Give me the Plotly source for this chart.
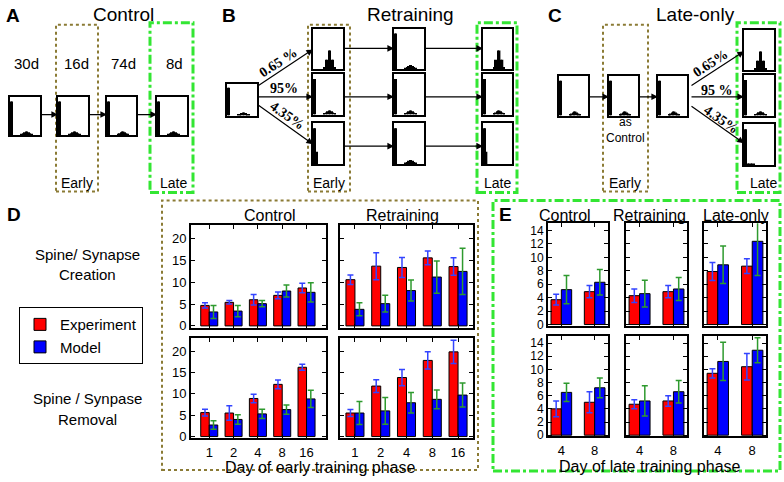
import plotly.graph_objects as go

W, H = 784, 482
def X(p): return p / W
def Y(p): return 1 - p / H

FONT = "Liberation Sans, Arial, sans-serif"

# ---------------- data ----------------
days_early = ["1", "2", "4", "8", "16"]
days_late = ["4", "8"]

# Panel D – creation
d_ctrl_cre_exp = [4.7, 5.4, 6.0, 7.0, 8.7]
d_ctrl_cre_exp_err = [0.6, 0.4, 1.2, 0.8, 1.1]
d_ctrl_cre_mod = [3.2, 3.4, 5.1, 8.0, 7.7]
d_ctrl_cre_mod_err = [1.5, 1.3, 0.7, 1.4, 2.2]
d_ret_cre_exp = [10.6, 13.7, 13.4, 15.6, 13.6]
d_ret_cre_exp_err = [1.1, 3.1, 2.3, 1.6, 2.0]
d_ret_cre_mod = [3.8, 5.1, 8.1, 11.2, 12.5]
d_ret_cre_mod_err = [1.5, 1.9, 2.4, 3.7, 5.3]
# Panel D – removal
d_ctrl_rem_exp = [5.6, 5.5, 8.9, 12.2, 16.2]
d_ctrl_rem_exp_err = [0.8, 1.7, 1.0, 1.0, 0.7]
d_ctrl_rem_mod = [2.7, 4.0, 5.3, 6.3, 8.8]
d_ctrl_rem_mod_err = [1.0, 1.1, 1.1, 1.1, 2.0]
d_ret_rem_exp = [5.5, 11.8, 13.8, 17.8, 19.8]
d_ret_rem_exp_err = [0.8, 1.5, 1.9, 2.0, 2.7]
d_ret_rem_mod = [5.5, 6.0, 7.9, 8.7, 9.7]
d_ret_rem_mod_err = [2.7, 3.1, 2.4, 2.2, 2.8]

# Panel E – creation
e_ctrl_cre_exp = [3.7, 4.9]
e_ctrl_cre_exp_err = [0.8, 0.9]
e_ctrl_cre_mod = [5.2, 6.3]
e_ctrl_cre_mod_err = [2.1, 1.9]
e_ret_cre_exp = [4.3, 4.9]
e_ret_cre_exp_err = [1.0, 0.9]
e_ret_cre_mod = [4.6, 5.3]
e_ret_cre_mod_err = [2.0, 1.7]
e_late_cre_exp = [7.9, 8.7]
e_late_cre_exp_err = [1.35, 1.1]
e_late_cre_mod = [8.9, 12.4]
e_late_cre_mod_err = [2.8, 5.1]
# Panel E – removal
e_ctrl_rem_exp = [4.0, 5.0]
e_ctrl_rem_exp_err = [1.2, 1.6]
e_ctrl_rem_mod = [6.5, 7.2]
e_ctrl_rem_mod_err = [1.4, 1.5]
e_ret_rem_exp = [4.7, 5.2]
e_ret_rem_exp_err = [0.7, 0.8]
e_ret_rem_mod = [5.2, 6.6]
e_ret_rem_mod_err = [2.3, 1.7]
e_late_rem_exp = [9.4, 10.4]
e_late_rem_exp_err = [0.7, 2.0]
e_late_rem_mod = [11.2, 12.9]
e_late_rem_mod_err = [2.9, 1.9]

# schematic weight-distribution histograms (20 bins)
hist_bins = [i + 0.5 for i in range(20)]
hist_normal = [0.88, 0.88, 0, 0, 0, 0, 0, 0.02, 0.05, 0.08, 0.1, 0.1, 0.08, 0.05, 0.02, 0, 0, 0, 0, 0]
hist_peak = [0, 0, 0, 0, 0, 0, 0, 0.05, 0.23, 0.23, 0.46, 0.46, 0.23, 0.23, 0.05, 0, 0, 0, 0, 0]
hist_lost_b = [0.88, 0.88, 0.3, 0, 0, 0, 0, 0, 0, 0, 0, 0, 0, 0, 0, 0, 0, 0, 0, 0]
hist_lost_c = [0.88, 0.88, 0.03, 0.03, 0.03, 0.03, 0.03, 0, 0, 0, 0, 0, 0, 0, 0, 0, 0, 0, 0, 0]

RED = "#ff0000"
BLUE = "#0000ff"
ERR_EXP = "#3344ff"
ERR_MOD = "#2e9a2e"
OLIVE = "#8b7b35"
GREEN = "#33e633"

fig = go.Figure()
layout = {}
count = [0]


def add_axis(x0, x1, y0, y1, xopts, yopts):
    count[0] += 1
    n = count[0]
    s = "" if n == 1 else str(n)
    layout["xaxis" + s] = dict(domain=[X(x0), X(x1)], anchor="y" + s, **xopts)
    layout["yaxis" + s] = dict(domain=[Y(y1), Y(y0)], anchor="x" + s, **yopts)
    return "x" + s, "y" + s


def main_axes(x0, x1, y0, y1, xrange, yrange, yticks, xlabels, ylabels, yfont=13):
    xo = dict(type="category", range=xrange, showline=True, linecolor="black", linewidth=2,
              mirror="ticks", ticks="inside", ticklen=4, tickcolor="black", showgrid=False,
              zeroline=False, showticklabels=xlabels, tickfont=dict(size=13, color="black"),
              ticklabelstandoff=1, fixedrange=True)
    yo = dict(range=yrange, showline=True, linecolor="black", linewidth=2, mirror="ticks",
              ticks="inside", ticklen=4, tickcolor="black", showgrid=False, zeroline=False,
              tickvals=yticks, showticklabels=ylabels, tickfont=dict(size=yfont, color="black"),
              fixedrange=True)
    return add_axis(x0, x1, y0, y1, xo, yo)


legend_shown = [False]


def add_bars(axes, cats, exp, exp_err, mod, mod_err, w):
    xa, ya = axes
    show = not legend_shown[0]
    legend_shown[0] = True
    fig.add_trace(go.Bar(x=cats, y=exp, xaxis=xa, yaxis=ya, width=w, offset=-w,
                         marker=dict(color=RED, line=dict(color="black", width=1)),
                         error_y=dict(type="data", array=exp_err, color=ERR_EXP, thickness=1.5, width=3),
                         name="Experiment", legendgroup="exp", showlegend=show))
    fig.add_trace(go.Bar(x=cats, y=mod, xaxis=xa, yaxis=ya, width=w, offset=0,
                         marker=dict(color=BLUE, line=dict(color="black", width=1)),
                         error_y=dict(type="data", array=mod_err, color=ERR_MOD, thickness=1.5, width=3),
                         name="Model", legendgroup="mod", showlegend=show))


# Panel D
D_YR = [-0.45, 23.1]
D_T = [0, 5, 10, 15, 20]
ax = main_axes(191, 326, 228, 332, [-0.75, 4.8], D_YR, D_T, False, True)
add_bars(ax, days_early, d_ctrl_cre_exp, d_ctrl_cre_exp_err, d_ctrl_cre_mod, d_ctrl_cre_mod_err, 0.35)
ax = main_axes(340, 473, 228, 332, [-0.58, 4.58], D_YR, D_T, False, False)
add_bars(ax, days_early, d_ret_cre_exp, d_ret_cre_exp_err, d_ret_cre_mod, d_ret_cre_mod_err, 0.35)
ax = main_axes(191, 326, 342, 444, [-0.75, 4.8], D_YR, D_T, True, True)
add_bars(ax, days_early, d_ctrl_rem_exp, d_ctrl_rem_exp_err, d_ctrl_rem_mod, d_ctrl_rem_mod_err, 0.35)
ax = main_axes(340, 473, 342, 444, [-0.58, 4.58], D_YR, D_T, True, False)
add_bars(ax, days_early, d_ret_rem_exp, d_ret_rem_exp_err, d_ret_rem_mod, d_ret_rem_mod_err, 0.35)

# Panel E
E_YR = [-0.2, 15.1]
E_T = [0, 2, 4, 6, 8, 10, 12, 14]
E_XR = [-0.4, 1.4]
e_cols = [(548, 608), (626, 687), (704, 766)]
e_cre = [(e_ctrl_cre_exp, e_ctrl_cre_exp_err, e_ctrl_cre_mod, e_ctrl_cre_mod_err),
         (e_ret_cre_exp, e_ret_cre_exp_err, e_ret_cre_mod, e_ret_cre_mod_err),
         (e_late_cre_exp, e_late_cre_exp_err, e_late_cre_mod, e_late_cre_mod_err)]
e_rem = [(e_ctrl_rem_exp, e_ctrl_rem_exp_err, e_ctrl_rem_mod, e_ctrl_rem_mod_err),
         (e_ret_rem_exp, e_ret_rem_exp_err, e_ret_rem_mod, e_ret_rem_mod_err),
         (e_late_rem_exp, e_late_rem_exp_err, e_late_rem_mod, e_late_rem_mod_err)]
for i, (c0, c1) in enumerate(e_cols):
    ax = main_axes(c0, c1, 226, 330, E_XR, E_YR, E_T, False, i == 0, 12)
    add_bars(ax, days_late, *e_cre[i], 0.31)
    ax = main_axes(c0, c1, 340, 442, E_XR, E_YR, E_T, True, i == 0, 12)
    add_bars(ax, days_late, *e_rem[i], 0.31)

# schematic mini histograms
mini_x = dict(range=[0, 20], showline=True, mirror=True, linecolor="black", linewidth=2,
              showticklabels=False, ticks="", showgrid=False, zeroline=False, fixedrange=True)
mini_y = dict(range=[0, 1], showline=True, mirror=True, linecolor="black", linewidth=2,
              showticklabels=False, ticks="", showgrid=False, zeroline=False, fixedrange=True)


def mini(x0, x1, y0, y1, hist):
    xa, ya = add_axis(x0, x1, y0, y1, mini_x, mini_y)
    fig.add_trace(go.Bar(x=hist_bins, y=hist, xaxis=xa, yaxis=ya, width=1, offset=-0.5,
                         marker=dict(color="black", line=dict(width=0)), showlegend=False,
                         hoverinfo="skip"))


# A
for (x0, x1) in [(10, 40), (58, 88), (107, 136), (157, 187)]:
    mini(x0, x1, 98, 137, hist_normal)
# B
mini(227, 257, 85, 117, hist_normal)
b_rows = [(29, 70), (75, 116), (125, 166)]
for (y0, y1), h in zip(b_rows, [hist_peak, hist_normal, hist_lost_b]):
    mini(313, 343, y0, y1, h)
for (y0, y1) in b_rows:
    mini(394, 424, y0, y1, hist_normal)
for (y0, y1), h in zip(b_rows, [hist_peak, hist_normal, hist_lost_b]):
    mini(483, 512, y0, y1, h)
# C
for (x0, x1) in [(559, 588), (609, 638), (658, 687)]:
    mini(x0, x1, 77, 117, hist_normal)
c_rows = [(30, 71), (76, 117), (126, 167)]
for (y0, y1), h in zip(c_rows, [hist_peak, hist_normal, hist_lost_c]):
    mini(744, 774, y0, y1, h)

# ---------------- shapes (dashed frames) ----------------
shapes = []


def frame(x0, x1, y0, y1, color, dash, width):
    shapes.append(dict(type="rect", xref="paper", yref="paper", x0=X(x0), x1=X(x1),
                       y0=Y(y1), y1=Y(y0), line=dict(color=color, dash=dash, width=width),
                       layer="below"))


for (x0, x1) in [(56, 98), (308, 350), (603, 648)]:
    frame(x0, x1, 25, 194, OLIVE, "dot", 2)
for (x0, x1) in [(150, 193), (477, 517), (737, 780)]:
    frame(x0, x1, 23, 195, GREEN, "dashdot", 3)
frame(162, 478, 203, 476, OLIVE, "dot", 2)
frame(493, 780, 203, 477, GREEN, "dashdot", 3)

# ---------------- annotations ----------------
ann = []
DY = 2  # visual centre correction


def text(x, y, s, size=15, bold=False, angle=0, family=FONT, xanchor="center"):
    ann.append(dict(x=X(x), y=Y(y + DY), xref="paper", yref="paper", text=("<b>%s</b>" % s) if bold else s,
                    showarrow=False, xanchor=xanchor, yanchor="middle", textangle=angle,
                    font=dict(size=size, family=family, color="black")))


def arrow(x_tail, y_tail, x_head, y_head):
    ann.append(dict(x=X(x_head), y=Y(y_head), xref="paper", yref="paper",
                    ax=x_tail - x_head, ay=y_tail - y_head, axref="pixel", ayref="pixel",
                    text="", showarrow=True, arrowhead=2, arrowsize=1.1, arrowwidth=1.2,
                    arrowcolor="black", standoff=0, startstandoff=0))


# titles
text(13, 14, "A", 19, True)
text(123, 13, "Control", 19)
text(229, 14, "B", 19, True)
text(410, 13, "Retraining", 19)
text(555, 14, "C", 19, True)
text(695, 13, "Late-only", 19)
for xx, s in [(26, "30d"), (76, "16d"), (123, "74d"), (174, "8d")]:
    text(xx, 62, s, 15)
for xx, s in [(77, "Early"), (173, "Late"), (329, "Early"), (497, "Late"), (625, "Early"), (763, "Late")]:
    text(xx, 183, s, 14)
text(625, 130, "as<br>Control", 12)

# arrows A
arrow(40, 116, 58, 116)
arrow(88, 116, 107, 116)
arrow(136, 116, 157, 116)
# arrows B
arrow(257, 87, 313, 50)
arrow(257, 98, 313, 98)
arrow(257, 106, 313, 146)
for yy in [49, 98, 148]:
    arrow(343, yy, 394, yy)
    arrow(424, yy, 483, yy)
# arrows C
arrow(588, 98, 609, 98)
arrow(638, 98, 658, 98)
arrow(690, 87, 744, 52)
arrow(690, 98, 744, 98)
arrow(690, 107, 744, 145)

SERIF = "Liberation Serif, DejaVu Serif, serif"
text(278, 61, "0.65 %", 14, True, -33, SERIF)
text(284, 88, "95%", 14, True, 0, SERIF)
text(287, 115, "4.35%", 14, True, 35, SERIF)
text(710, 62, "0.65%", 14, True, -33, SERIF)
text(717, 90, "95 %", 14, True, 0, SERIF)
text(721, 119, "4.35%", 14, True, 35, SERIF)

# panel D/E labels
text(14, 215, "D", 19, True)
text(87, 256, "Spine/ Synapse", 15)
text(87, 276, "Creation", 15)
text(87, 402, "Spine / Synpase", 15)
text(87, 423, "Removal", 15)
text(270, 216, "Control", 16)
text(402, 216, "Retraining", 16)
text(320, 471, "Day of early training phase", 16)
text(505, 215, "E", 19, True)
text(565, 216, "Control", 16)
text(649, 216, "Retraining", 16)
text(736, 216, "Late-only", 16)
text(650, 470, "Day of late training phase", 16)

fig.update_layout(**layout)
fig.update_layout(
    width=W, height=H, margin=dict(l=0, r=0, t=0, b=0),
    paper_bgcolor="white", plot_bgcolor="white",
    barmode="overlay", shapes=shapes, annotations=ann,
    font=dict(family=FONT, color="black"),
    showlegend=True,
    legend=dict(x=X(19), y=Y(311), xanchor="left", yanchor="top", bordercolor="black",
                borderwidth=1, bgcolor="white", font=dict(size=15, family=FONT),
                itemwidth=30, tracegroupgap=0),
)
fig.write_html("out.html", config={"displayModeBar": False},
               post_script="document.body.style.margin='0';document.body.style.overflow='hidden';")
